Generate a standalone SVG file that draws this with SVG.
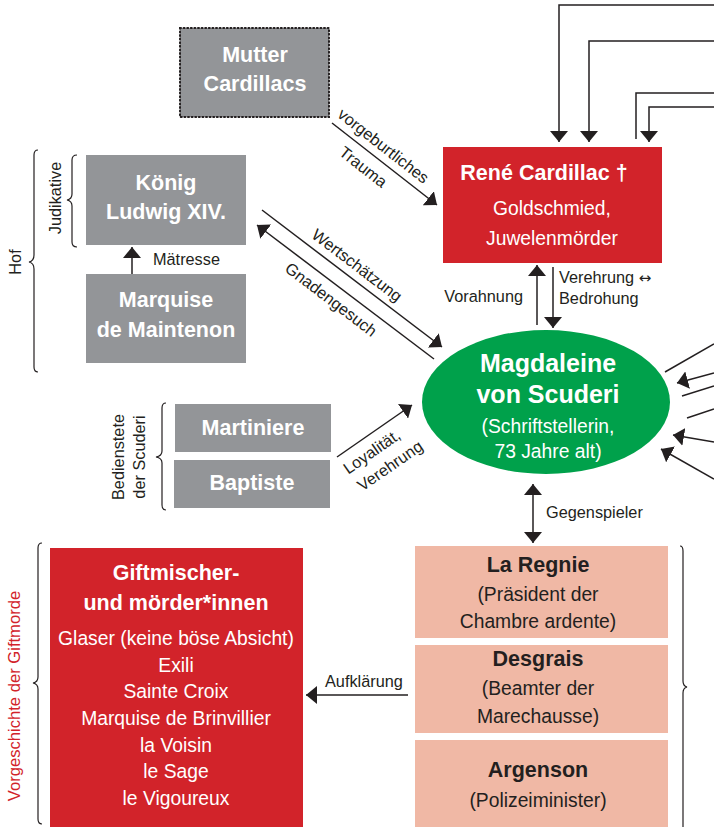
<svg xmlns="http://www.w3.org/2000/svg" width="714" height="827" viewBox="0 0 714 827">
<defs>
<marker id="ah" viewBox="0 0 11 18" refX="11" refY="9" markerWidth="11" markerHeight="18" orient="auto-start-reverse" markerUnits="userSpaceOnUse">
<path d="M0,0 L11,9 L0,18 z" fill="#231f20"/>
</marker>
<style>
text{font-family:"Liberation Sans",Arial,sans-serif;}
.gray{fill:#939598;}
.red{fill:#d2232a;}
.pink{fill:#f0b8a5;}
.tb{fill:#fff;font-weight:bold;font-size:21.5px;text-anchor:middle;}
.tw{fill:#fff;font-size:19.3px;text-anchor:middle;}
.db{fill:#231f20;font-weight:bold;font-size:21.5px;text-anchor:middle;}
.dw{fill:#231f20;font-size:19.3px;text-anchor:middle;}
.lbl{fill:#231f20;font-size:16.3px;}
.con{fill:none;stroke:#231f20;stroke-width:1.5;}
.arr{marker-end:url(#ah);}
.brace{fill:none;stroke:#231f20;stroke-width:1.2;}
</style>
</defs>

<g id="mutter">
<rect x="180" y="28" width="149" height="89" class="gray" stroke="#231f20" stroke-width="2" stroke-dasharray="1 2.6" stroke-linecap="round"/>
<text x="255" y="62" class="tb">Mutter</text>
<text x="255" y="91" class="tb">Cardillacs</text>
</g>

<g id="koenig">
<rect x="86" y="155" width="160" height="90" class="gray"/>
<text x="166" y="190" class="tb">König</text>
<text x="166" y="219" class="tb">Ludwig XIV.</text>
</g>

<g id="maintenon">
<rect x="86" y="274" width="160" height="89" class="gray"/>
<text x="166" y="307" class="tb">Marquise</text>
<text x="166" y="337" class="tb">de Maintenon</text>
</g>

<g id="cardillac">
<rect x="443" y="147" width="219" height="116" class="red"/>
<text x="544" y="180" class="tb">René Cardillac †</text>
<text x="552" y="215" class="tw">Goldschmied,</text>
<text x="552" y="245" class="tw">Juwelenmörder</text>
</g>

<g id="scuderi">
<ellipse cx="546" cy="402" rx="124" ry="72" fill="#00a14b"/>
<text x="548" y="372" class="tb" style="font-size:25px">Magdaleine</text>
<text x="548" y="403" class="tb" style="font-size:25px">von Scuderi</text>
<text x="548" y="433" class="tw">(Schriftstellerin,</text>
<text x="548" y="458" class="tw">73 Jahre alt)</text>
</g>

<g id="martiniere">
<rect x="175" y="404" width="156" height="48" class="gray"/>
<text x="253" y="435" class="tb">Martiniere</text>
</g>

<g id="baptiste">
<rect x="174" y="460" width="156" height="48" class="gray"/>
<text x="252" y="490" class="tb">Baptiste</text>
</g>

<g id="giftmischer">
<rect x="50" y="548" width="253" height="285" class="red"/>
<text x="176" y="580" class="tb">Giftmischer-</text>
<text x="176" y="610" class="tb">und mörder*innen</text>
<text x="176" y="645" class="tw">Glaser (keine böse Absicht)</text>
<text x="176" y="672" class="tw">Exili</text>
<text x="176" y="698" class="tw">Sainte Croix</text>
<text x="176" y="725" class="tw">Marquise de Brinvillier</text>
<text x="176" y="752" class="tw">la Voisin</text>
<text x="176" y="778" class="tw">le Sage</text>
<text x="176" y="805" class="tw">le Vigoureux</text>
</g>

<g id="laregnie">
<rect x="415" y="546" width="253" height="92" class="pink"/>
<text x="538" y="572" class="db">La Regnie</text>
<text x="538" y="601" class="dw">(Präsident der</text>
<text x="538" y="628" class="dw">Chambre ardente)</text>
</g>

<g id="desgrais">
<rect x="415" y="645" width="253" height="88" class="pink"/>
<text x="538" y="666" class="db">Desgrais</text>
<text x="538" y="695" class="dw">(Beamter der</text>
<text x="538" y="723" class="dw">Marechausse)</text>
</g>

<g id="argenson">
<rect x="415" y="740" width="253" height="95" class="pink"/>
<text x="538" y="777" class="db">Argenson</text>
<text x="538" y="807" class="dw">(Polizeiminister)</text>
</g>

<g id="braces">
<path class="brace" d="M38,150 q-4,0 -4,5 v100 q0,6 -5,7 q5,1 5,7 v98 q0,5 4,5"/>
<text class="lbl" transform="translate(21,262) rotate(-90)" text-anchor="middle">Hof</text>
<path class="brace" d="M77,155 q-5,0 -5,5 v34 q0,5 -5,6 q5,1 5,6 v36 q0,5 5,5"/>
<text class="lbl" transform="translate(61,198) rotate(-90)" text-anchor="middle">Judikative</text>
<path class="brace" d="M166,403 q-4,0 -4,5 v43 q0,5 -6,6 q6,1 6,6 v42 q0,5 4,5"/>
<text class="lbl" transform="translate(124,457) rotate(-90)" text-anchor="middle">Bedienstete</text>
<text class="lbl" transform="translate(145,457) rotate(-90)" text-anchor="middle">der Scuderi</text>
<path class="brace" d="M42,543 q-4,0 -4,5 v129 q0,5 -5,6 q5,1 5,6 v130 q0,5 4,5"/>
<text class="lbl" transform="translate(20,696) rotate(-90)" text-anchor="middle" style="fill:#d2232a;font-size:16.6px">Vorgeschichte der Giftmorde</text>
<path class="brace" d="M680,546 q3,0 3,5 v130 q0,5 4,6 q-4,1 -4,6 v140"/>
</g>

<g id="connectors">
<path class="con arr" d="M714,5 H559 V142"/>
<path class="con arr" d="M714,41 H589 V142"/>
<path class="con" d="M714,93 H636 V139"/>
<path class="con arr" d="M714,107 H649 V142"/>

<path class="con" d="M714,344 L665,372"/>
<path class="con arr" d="M714,373 L677,383"/>
<path class="con" d="M714,386 L682,396"/>
<path class="con" d="M714,409 L687,418"/>
<path class="con arr" d="M714,442 L673,435"/>
<path class="con arr" d="M714,479 L661,449"/>

<path class="con arr" d="M332,123 L437,205"/>
<path class="con arr" d="M262,210 L442,347"/>
<path class="con arr" d="M434,359 L257,225"/>
<path class="con arr" d="M132,274 V247"/>
<path class="con arr" d="M537,325 V265"/>
<path class="con arr" d="M553,267 V328"/>
<path class="con arr" d="M533,484 V543" style="marker-start:url(#ah)"/>
<path class="con arr" d="M408,695 H306"/>
<path class="con arr" d="M337,457 L412,405"/>

<text class="lbl" x="153" y="265">Mätresse</text>
<g transform="translate(384.5,164) rotate(38)">
<text class="lbl" x="-12" y="-8" text-anchor="middle">vorgeburtliches</text>
<text class="lbl" x="-15" y="21" text-anchor="middle">Trauma</text>
</g>
<g transform="translate(352,278.5) rotate(37.3)">
<text class="lbl" x="-4" y="-8" text-anchor="middle">Wertschätzung</text>
<text class="lbl" x="-4" y="35" text-anchor="middle">Gnadengesuch</text>
</g>
<g transform="translate(374.5,431) rotate(-34.7)">
<text class="lbl" x="-14" y="21" text-anchor="middle">Loyalität,</text>
<text class="lbl" x="-7" y="43" text-anchor="middle">Verehrung</text>
</g>
<text class="lbl" x="523" y="302" text-anchor="end">Vorahnung</text>
<text class="lbl" x="559" y="283">Verehrung <tspan style="font-family:'DejaVu Sans',sans-serif;font-size:15px">↔</tspan></text>
<text class="lbl" x="559" y="304">Bedrohung</text>
<text class="lbl" x="546" y="518">Gegenspieler</text>
<text class="lbl" x="325" y="687">Aufklärung</text>
</g>
</svg>
